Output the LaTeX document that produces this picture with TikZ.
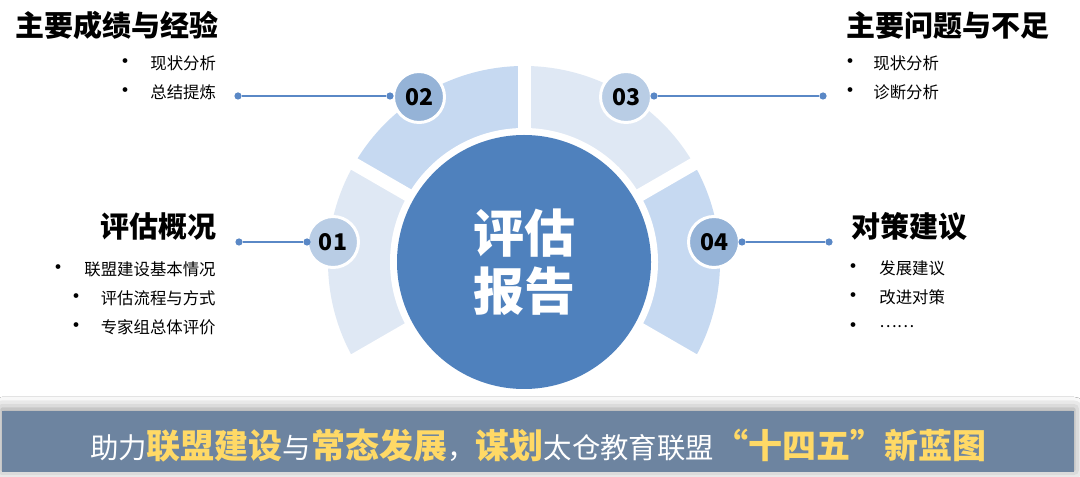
\documentclass[tikz,border=0pt]{standalone}
\usepackage{fontspec}
\setmainfont{Noto Sans CJK SC}
\usetikzlibrary{shadows.blur}
\definecolor{cblue}{HTML}{4F81BD}
\definecolor{segA}{HTML}{DFE8F4}
\definecolor{segB}{HTML}{C6D9F1}
\definecolor{numA}{HTML}{B9CDE5}
\definecolor{numB}{HTML}{95B3D7}
\definecolor{bannerc}{HTML}{6D84A0}
\definecolor{gold}{HTML}{FFD966}
\definecolor{linec}{HTML}{5A88C6}
\newcommand{\goldtxt}[1]{{\color{gold}\bfseries\fontsize{17}{19}\selectfont #1}}
\begin{document}
\begin{tikzpicture}[x=0.5pt,y=0.5pt,
  numc/.style={circle, draw=white, line width=1.5pt, minimum size=25.5pt, inner sep=0pt, font=\bfseries\fontsize{11.5}{12}\selectfont},
  dotc/.style={circle, fill=linec, minimum size=3.6pt, inner sep=0pt},
  conn/.style={draw=linec, line width=0.6pt},
  titletxt/.style={inner sep=0pt, font=\bfseries\fontsize{14.5}{16}\selectfont},
  itemtxt/.style={inner sep=0pt, font=\fontsize{8.2}{10}\selectfont},
  bul/.style={inner sep=0pt, font=\bfseries\fontsize{8.5}{9}\selectfont},
]
\useasboundingbox (0,0) rectangle (1080,476);
\fill[white] (0,0) rectangle (1080,476);
\coordinate (c) at (524,214);
% ring segments
\fill[segA] (c) -- ++(150:196) arc[start angle=150,end angle=210,radius=196] -- cycle;
\fill[segB] (c) -- ++(90:196) arc[start angle=90,end angle=150,radius=196] -- cycle;
\fill[segA] (c) -- ++(30:196) arc[start angle=30,end angle=90,radius=196] -- cycle;
\fill[segB] (c) -- ++(-30:196) arc[start angle=-30,end angle=30,radius=196] -- cycle;
\foreach \a in {90,150,30,210,-30} \draw[white,line width=6.5pt] (c) -- ++(\a:210);
\fill[white] (c) circle[radius=134];
\node[circle, fill=cblue, minimum size=127pt, inner sep=0pt, text=white, align=center,
      font=\bfseries\fontsize{25.5}{29}\selectfont] (center) at (c) {评估\\报告};

% numbered circles
\node[numc, fill=numA] (n1) at (333,234) {01};
\node[numc, fill=numB] (n2) at (419,379) {02};
\node[numc, fill=numA] (n3) at (626,379) {03};
\node[numc, fill=numB] (n4) at (714,234) {04};

% connector dots
\node[dotc] (d1a) at (239,234) {};
\node[dotc] (d1b) at (307,234) {};
\node[dotc] (d2a) at (238,380) {};
\node[dotc] (d2b) at (390,380) {};
\node[dotc] (d3a) at (654,380) {};
\node[dotc] (d3b) at (823,380) {};
\node[dotc] (d4a) at (742,234) {};
\node[dotc] (d4b) at (829,234) {};
\draw[conn] (d1a) -- (d1b);
\draw[conn] (d2a) -- (d2b);
\draw[conn] (d3a) -- (d3b);
\draw[conn] (d4a) -- (d4b);

% top-left block
\node[titletxt, anchor=west] (t2) at (15,451) {主要成绩与经验};
\node[bul] (b2a) at (125,413) {•};
\node[itemtxt, anchor=west] (i2a) at (150,413) {现状分析};
\node[bul] (b2b) at (125,384) {•};
\node[itemtxt, anchor=west] (i2b) at (150,384) {总结提炼};

% top-right block
\node[titletxt, anchor=west] (t3) at (846,451) {主要问题与不足};
\node[bul] (b3a) at (850,413) {•};
\node[itemtxt, anchor=west] (i3a) at (873,413) {现状分析};
\node[bul] (b3b) at (850,384) {•};
\node[itemtxt, anchor=west] (i3b) at (873,384) {诊断分析};

% left block
\node[titletxt, anchor=east] (t1) at (217,249) {评估概况};
\node[bul] (b1a) at (58,207) {•};
\node[itemtxt, anchor=east] (i1a) at (216,207) {联盟建设基本情况};
\node[bul] (b1b) at (76,178) {•};
\node[itemtxt, anchor=east] (i1b) at (216,178) {评估流程与方式};
\node[bul] (b1c) at (76,149) {•};
\node[itemtxt, anchor=east] (i1c) at (216,149) {专家组总体评价};

% right block
\node[titletxt, anchor=west] (t4) at (851,249) {对策建议};
\node[bul] (b4a) at (853,208) {•};
\node[itemtxt, anchor=west] (i4a) at (879,208) {发展建议};
\node[bul] (b4b) at (853,179) {•};
\node[itemtxt, anchor=west] (i4b) at (879,179) {改进对策};
\node[bul] (b4c) at (853,149) {•};
\node[itemtxt, anchor=west] (i4c) at (879,149) {……};

% banner
\node[rectangle, fill=bannerc, minimum width=536pt, minimum height=30.5pt, inner sep=0pt,
      blur shadow={shadow xshift=0pt, shadow yshift=1pt, shadow blur radius=6pt, shadow opacity=45}] (banner) at (538,34.5) {};
\node[inner sep=0pt, text=white, font=\fontsize{14.2}{16}\selectfont] (bt) at (538,30)
  {助力\goldtxt{联盟建设}与\goldtxt{常态发展}，\goldtxt{谋划}太仓教育联盟\goldtxt{“十四五”新蓝图}};
\end{tikzpicture}
\end{document}
